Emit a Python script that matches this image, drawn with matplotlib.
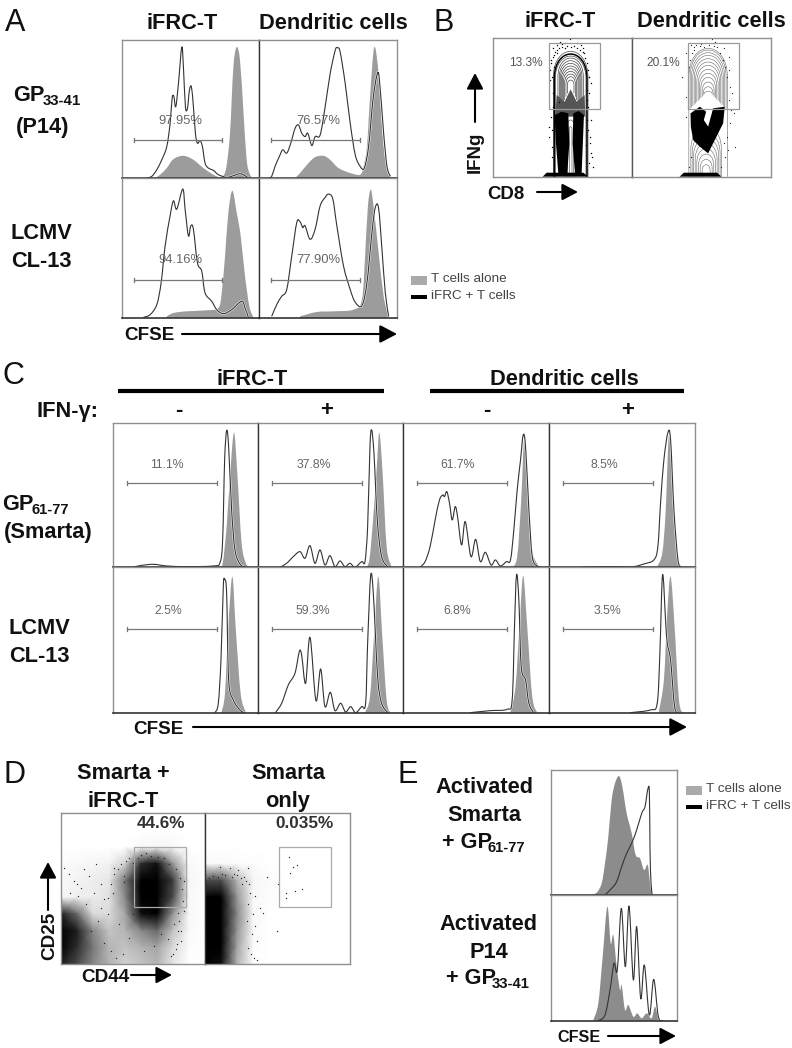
import matplotlib
matplotlib.use("Agg")
import matplotlib.pyplot as plt
import numpy as np
from matplotlib.path import Path
from matplotlib.patches import PathPatch, Rectangle

plt.rcParams["font.family"] = ["Liberation Sans", "DejaVu Sans"]

# histograms: channel / count, one panel each
a1_line_x = [75, 91, 106, 121, 136, 146, 152, 157, 163, 171, 181, 186, 192, 198, 204, 210, 216, 222, 228, 236, 243, 251, 261, 276, 291, 316, 336, 356, 371, 381]
a1_line_y = [0, 5, 25, 55, 95, 165, 240, 247, 215, 285, 395, 335, 215, 210, 265, 275, 215, 135, 105, 113, 95, 45, 30, 23, 10, 2, 7, 13, 7, 0]
a1_fill_x = [101, 116, 136, 156, 186, 216, 246, 276, 296, 308, 316, 326, 336, 346, 356, 366, 376, 386, 396]
a1_fill_y = [0, 10, 30, 57, 67, 55, 30, 10, 2, 10, 40, 135, 335, 395, 355, 205, 55, 10, 0]
a2_line_x = [30, 38, 48, 61, 71, 83, 95, 108, 118, 128, 138, 146, 158, 168, 183, 198, 213, 228, 235, 243, 258, 273, 288, 303, 315, 328, 341, 353, 360, 373, 383, 393]
a2_line_y = [0, 5, 35, 65, 85, 75, 105, 150, 160, 135, 125, 135, 98, 125, 130, 215, 315, 385, 393, 380, 285, 165, 70, 35, 30, 95, 235, 310, 300, 135, 35, 5]
a2_fill_x = [108, 123, 148, 168, 193, 213, 238, 273, 303, 313, 323, 333, 345, 358, 368, 378, 393]
a2_fill_y = [0, 15, 45, 63, 67, 55, 30, 15, 10, 35, 95, 255, 395, 315, 155, 55, 5]
a3_line_x = [66, 86, 106, 119, 131, 146, 156, 166, 184, 191, 201, 208, 216, 228, 241, 251, 271, 286, 306, 331, 361, 371, 381]
a3_line_y = [2, 10, 40, 105, 215, 305, 350, 325, 385, 325, 245, 275, 265, 165, 140, 75, 50, 25, 13, 25, 50, 30, 2]
a3_fill_x = [136, 156, 196, 256, 291, 301, 311, 321, 333, 346, 358, 371, 384, 396]
a3_fill_y = [5, 15, 20, 23, 30, 75, 185, 315, 380, 315, 245, 125, 35, 2]
a4_line_x = [38, 53, 68, 83, 98, 113, 123, 131, 138, 153, 168, 183, 198, 208, 221, 233, 253, 273, 288, 308, 323, 338, 348, 358, 368, 378, 388]
a4_line_y = [5, 40, 65, 85, 185, 285, 287, 270, 275, 235, 265, 335, 360, 370, 355, 275, 155, 85, 47, 37, 105, 255, 330, 327, 205, 75, 5]
a4_fill_x = [123, 173, 223, 283, 308, 318, 326, 335, 345, 358, 373, 388]
a4_fill_y = [5, 18, 20, 25, 55, 195, 335, 383, 315, 195, 65, 5]

c1_line_x = [60, 80, 120, 160, 220, 300, 320, 328, 334, 340, 346, 355, 365, 380, 395]
c1_line_y = [0, 5, 9, 4, 2, 4, 14, 82, 322, 410, 362, 172, 52, 10, 0]
c1_fill_x = [315, 328, 340, 350, 362, 372, 385, 398, 410]
c1_fill_y = [0, 12, 122, 272, 404, 282, 72, 12, 0]
c2_line_x = [65, 85, 105, 125, 140, 155, 170, 185, 200, 215, 230, 245, 260, 275, 290, 310, 320, 328, 335, 340, 347, 357, 370, 390]
c2_line_y = [0, 12, 32, 47, 27, 65, 12, 52, 7, 35, 2, 19, 2, 12, 0, 17, 17, 122, 362, 412, 342, 142, 32, 0]
c2_fill_x = [320, 333, 345, 355, 363, 373, 385, 400]
c2_fill_y = [0, 22, 152, 292, 404, 282, 62, 0]
c3_line_x = [50, 65, 80, 95, 108, 118, 123, 130, 138, 146, 155, 162, 174, 185, 202, 216, 230, 245, 262, 275, 290, 308, 320, 330, 340, 350, 358, 365, 375, 385, 400, 410]
c3_line_y = [0, 17, 62, 142, 202, 217, 212, 227, 192, 142, 182, 152, 67, 137, 32, 84, 17, 45, 7, 22, 4, 17, 22, 112, 232, 322, 397, 362, 172, 32, 4, 0]
c3_fill_x = [325, 340, 352, 362, 372, 382, 400, 415]
c3_fill_y = [0, 32, 202, 404, 222, 62, 10, 0]
c4_line_x = [93, 153, 213, 253, 283, 313, 325, 333, 343, 355, 363, 373, 385, 395]
c4_line_y = [0, 2, 2, 2, 10, 22, 62, 192, 322, 404, 382, 172, 22, 0]
c4_fill_x = [323, 338, 348, 358, 368, 378, 388, 398]
c4_fill_y = [2, 42, 162, 397, 262, 82, 17, 0]
c5_line_x = [305, 315, 323, 330, 334, 340, 346, 360, 380, 395]
c5_line_y = [2, 30, 160, 380, 402, 360, 100, 40, 10, 0]
c5_fill_x = [325, 335, 345, 357, 367, 382, 398]
c5_fill_y = [5, 60, 260, 410, 260, 60, 2]
c6_line_x = [50, 70, 90, 110, 123, 130, 142, 155, 173, 187, 200, 216, 230, 247, 262, 277, 292, 310, 322, 328, 337, 345, 358, 370, 390]
c6_line_y = [0, 30, 85, 120, 185, 175, 90, 228, 38, 133, 20, 63, 8, 30, 4, 20, 2, 20, 30, 210, 412, 360, 110, 30, 0]
c6_fill_x = [320, 335, 347, 360, 372, 385, 397]
c6_fill_y = [2, 50, 230, 410, 230, 40, 0]
c7_line_x = [200, 260, 310, 325, 332, 338, 345, 352, 365, 375, 390]
c7_line_y = [2, 8, 12, 40, 260, 415, 340, 140, 100, 30, 0]
c7_fill_x = [320, 335, 348, 358, 370, 385, 400]
c7_fill_y = [5, 80, 280, 412, 260, 50, 2]
c8_line_x = [243, 303, 323, 331, 339, 348, 353, 363, 375, 388]
c8_line_y = [2, 10, 30, 180, 415, 280, 210, 160, 20, 0]
c8_fill_x = [328, 343, 353, 363, 375, 388, 401]
c8_fill_y = [5, 100, 300, 410, 260, 40, 0]

e1_line_x = [161, 181, 196, 211, 226, 241, 256, 271, 281, 289, 294, 296, 299, 303]
e1_line_y = [1, 21, 41, 86, 126, 156, 196, 246, 266, 316, 311, 136, 36, 0]
e1_fill_x = [116, 136, 151, 161, 171, 181, 191, 203, 213, 226, 241, 253, 266, 278, 289, 296, 301]
e1_fill_y = [1, 8, 36, 96, 176, 286, 336, 358, 326, 246, 186, 121, 111, 76, 91, 36, 0]
e2_line_x = [141, 161, 176, 188, 198, 210, 222, 233, 246, 256, 268, 279, 294, 307, 321, 336]
e2_line_y = [0, 17, 92, 172, 152, 337, 162, 344, 122, 282, 67, 167, 17, 124, 12, 0]
e2_fill_x = [126, 141, 154, 168, 178, 186, 196, 206, 211, 221, 231, 246, 258, 271, 286, 301, 311, 321]
e2_fill_y = [2, 52, 192, 342, 232, 257, 162, 92, 107, 32, 47, 12, 22, 7, 22, 7, 42, 0]

# gate bars and their percent labels
a_labels = ["97.95%", "76.57%", "94.16%", "77.90%"]
c_labels = ["11.1%", "37.8%", "61.7%", "8.5%", "2.5%", "59.3%", "6.8%", "3.5%"]
c_label_x = [162, 168, 163, 166, 166, 165, 161, 176]

# panel B contour rings: top, half width, bottom
b1_ring_top = [376, 362, 356, 348, 340, 332, 324, 316, 308, 300, 290]
b1_ring_hw = [52, 46, 38, 34, 31, 28, 25, 22, 18, 14, 10]
b1_ring_bot = [0, 0, 200, 205, 210, 215, 220, 225, 230, 240, 250]
b1_mid_top = [190, 170, 150]
b1_mid_hw = [14, 9, 4]
b2_ring_top = [385, 380, 372, 364, 354, 344, 334, 322, 310, 298, 284, 270, 256]
b2_ring_hw = [58, 54, 50, 46, 42, 38, 34, 30, 26, 22, 18, 15, 12]
b2_ring_bot = [0, 205, 208, 212, 216, 220, 224, 228, 232, 236, 240, 244, 248]
b2_low_top = [150, 132, 116, 100, 84, 68, 52, 36]
b2_low_hw = [46, 42, 38, 33, 28, 23, 18, 12]

b1_haze_x = [186, 276, 274, 250, 232, 214, 190]
b1_haze_y = [180, 180, 245, 225, 262, 225, 245]
b1_black_x = [[184, 205, 225, 228, 222, 195, 188], [240, 256, 272, 265, 245, 238], [148, 160, 270, 285]]
b1_black_y = [[185, 195, 190, 100, 10, 10, 100], [190, 197, 185, 10, 10, 100], [0, 12, 12, 0]]
b2_black_x = [[175, 203, 222, 215, 228, 243, 278, 273, 248, 228, 203, 183, 176], [142, 155, 255, 268]]
b2_black_y = [[190, 210, 195, 170, 150, 205, 210, 160, 110, 70, 90, 110, 150], [0, 12, 12, 0]]
b1_dots_x = [180, 172, 190, 200, 170, 178, 290, 282, 275, 268, 295, 284, 288, 278, 183, 176, 272, 286, 190, 262, 230, 215, 250, 205, 280, 196, 175, 292,
             178, 174, 170, 176, 182, 186, 192, 198, 206, 214, 222, 234, 242, 252, 260, 268, 276, 280, 284, 288, 292, 286, 282, 178, 172, 168, 166, 176, 284, 290, 294, 298]
b1_dots_y = [385, 350, 395, 405, 290, 250, 120, 170, 330, 385, 60, 210, 40, 95, 330, 140, 370, 300, 370, 395, 412, 400, 402, 398, 260, 225, 60, 170,
             360, 340, 320, 300, 365, 375, 380, 385, 390, 385, 392, 388, 392, 385, 380, 375, 355, 340, 320, 300, 280, 250, 230, 210, 180, 150, 120, 90, 140, 100, 70, 30]
b2_dots_x = [160, 170, 185, 200, 250, 275, 290, 300, 168, 305, 285, 278, 295, 310, 150, 176, 240, 222, 205, 292, 268, 320,
             172, 178, 184, 192, 208, 216, 232, 246, 256, 264, 272, 280, 286, 294, 162, 166, 160, 290, 298, 276, 288, 176, 170]
b2_dots_y = [370, 330, 390, 400, 405, 385, 320, 250, 260, 190, 120, 60, 160, 90, 300, 395, 412, 402, 392, 360, 30, 230,
             350, 370, 380, 395, 398, 390, 395, 392, 388, 372, 350, 330, 300, 270, 240, 210, 180, 230, 200, 100, 80, 60, 30]

# panel D density read per cell, top row first
d1_density = [
    [0, 0, 0, 0, 0, 0, 0, 0, 0, 0],
    [0, 0, 0, 0, 0, 0, 0, 0, 0, 0],
    [0, 0, 0, 0, 0, .02, .03, .02, 0, 0],
    [.01, .02, .03, .04, .15, .7, .8, .35, .02, 0],
    [.02, .04, .06, .08, .45, 1, 1, .65, .03, 0],
    [.03, .05, .06, .1, .4, 1, 1, .6, .02, 0],
    [.75, .5, .12, .12, .3, .8, .95, .35, .02, 0],
    [.9, .75, .4, .2, .25, .4, .5, .2, .02, 0],
    [.9, .7, .45, .25, .2, .25, .3, .12, .01, 0],
    [.75, .6, .4, .25, .15, .2, .25, .08, 0, 0],
]
d2_density = [
    [0, 0, 0, 0, 0, 0, 0, 0, 0, 0],
    [0, 0, 0, 0, 0, 0, 0, 0, 0, 0],
    [0, 0, 0, 0, 0, 0, 0, 0, 0, 0],
    [.02, .02, .01, .01, 0, 0, 0, 0, 0, 0],
    [.6, .6, .25, .03, .01, 0, 0, 0, 0, 0],
    [.95, .9, .35, .02, .01, 0, 0, 0, 0, 0],
    [1, .95, .4, .02, 0, 0, 0, 0, 0, 0],
    [1, .9, .35, .02, 0, 0, 0, 0, 0, 0],
    [1, .85, .3, .01, 0, 0, 0, 0, 0, 0],
    [.95, .8, .25, .01, 0, 0, 0, 0, 0, 0],
]
d1_dots_x = [10, 25, 40, 60, 85, 100, 120, 70, 50, 140, 160, 370, 375, 355, 360, 345, 350, 335, 370, 28,
             180, 170, 195, 205, 215, 190, 160, 150, 230, 240, 255, 270, 290, 310, 325, 345, 356, 362, 366, 352, 340, 360, 348, 330, 320, 300, 280, 250, 205, 175, 140, 120, 110, 90, 130, 150, 165, 185, 130, 155, 75, 48, 105, 190, 215]
d1_dots_y = [290, 270, 250, 230, 265, 215, 240, 285, 205, 200, 290, 250, 210, 130, 70, 45, 100, 30, 160, 215,
             300, 285, 310, 320, 305, 265, 270, 240, 320, 328, 335, 325, 322, 318, 300, 285, 260, 225, 190, 155, 120, 100, 60, 25, 75, 90, 55, 40, 80, 120, 150, 170, 130, 100, 65, 40, 20, 30, 195, 215, 180, 240, 300, 248, 150]
d2_dots_x = [253, 275, 265, 243, 242, 290, 270, 220, 255, 185, 130, 100, 175, 217, 155, 45, 75, 150, 165,
             135, 130, 145, 125, 150, 140, 155, 128, 138, 146, 132, 122, 118, 108, 95, 80, 60, 40, 25, 12, 52, 88, 112]
d2_dots_y = [321, 298, 293, 213, 198, 225, 221, 241, 273, 263, 288, 283, 153, 100, 13, 293, 288, 205, 170,
             215, 180, 150, 130, 115, 90, 70, 50, 30, 20, 240, 250, 262, 258, 268, 262, 268, 262, 265, 258, 272, 270, 242]

LINE = "#333333"
FILL = "#9c9c9c"
EDGE = "#8f8f8f"
DARK = "#333333"
HEAD = 15.7
W, H = 792, 1048

fig = plt.figure(figsize=(7.92, 10.48), dpi=100)
overlay = fig.add_axes([0, 0, 1, 1], zorder=10)
overlay.set_xlim(0, W)
overlay.set_ylim(H, 0)
overlay.axis("off")
overlay.patch.set_alpha(0)


def panel(left, top, right, bottom, xmax, ymax):
    ax = fig.add_axes([left / W, 1 - bottom / H, (right - left) / W, (bottom - top) / H])
    ax.set_xlim(0, xmax)
    ax.set_ylim(0, ymax)
    ax.set_xticks([])
    ax.set_yticks([])
    for s in ax.spines.values():
        s.set_color(EDGE)
        s.set_linewidth(1)
    return ax


def smooth(x, y):
    # curve through the read points, no extra data
    p = np.column_stack([x, y]).astype(float)
    verts = [p[0]]
    codes = [Path.MOVETO]
    for i in range(len(p) - 1):
        a = p[max(i - 1, 0)]
        b = p[min(i + 2, len(p) - 1)]
        verts += [p[i] + (p[i + 1] - a) / 6, p[i + 1] - (b - p[i]) / 6, p[i + 1]]
        codes += [Path.CURVE4] * 3
    return verts, codes


def histogram(ax, fx, fy, lx, ly, fill=FILL, halo=1.5):
    verts, codes = smooth(fx, fy)
    verts = verts + [(fx[-1], 0), (fx[0], 0), (fx[0], 0)]
    codes = codes + [Path.LINETO, Path.LINETO, Path.CLOSEPOLY]
    ax.add_patch(PathPatch(Path(verts, codes), facecolor=fill, edgecolor="none"))
    verts, codes = smooth(lx, ly)
    if halo:
        ax.add_patch(PathPatch(Path(verts, codes), fill=False, edgecolor="white", lw=halo))
    ax.add_patch(PathPatch(Path(verts, codes), fill=False, edgecolor=LINE, lw=0.8))
    ax.spines["bottom"].set_color(DARK)
    ax.spines["bottom"].set_linewidth(1.2)


def gate(ax, x0, x1, y):
    ax.plot([x0, x1], [y, y], color="#777777", lw=0.9)
    for x in (x0, x1):
        ax.plot([x, x], [y - 6, y + 6], color="#777777", lw=0.9)


def label(x, y, s, size=HEAD, bold=True, ha="left", color="#111111", **kw):
    overlay.text(x, y, s, fontsize=size, fontweight="bold" if bold else "normal",
                 ha=ha, va="baseline", color=color, **kw)


def arrow(x0, y0, x1, y1, scale=12):
    overlay.annotate("", xy=(x1, y1), xytext=(x0, y0),
                     arrowprops=dict(arrowstyle="-|>,head_length=0.8,head_width=0.42", color="black",
                                     lw=1.5, shrinkA=0, shrinkB=0, mutation_scale=scale))


def dome(ax, xc, top, hw, bot, color, lw=0.5):
    shoulder = max(top - 1.5 * hw, bot)
    c = shoulder + (top - shoulder) / 0.75
    verts = [(xc - hw, bot), (xc - hw, shoulder), (xc - hw, c), (xc + hw, c), (xc + hw, shoulder), (xc + hw, bot)]
    codes = [Path.MOVETO, Path.LINETO, Path.CURVE4, Path.CURVE4, Path.CURVE4, Path.LINETO]
    ax.add_patch(PathPatch(Path(verts, codes), fill=False, edgecolor=color, lw=lw))


def legend(x, y0, y1, y2, y3):
    overlay.add_patch(Rectangle((x, y0), 16, 9, color="#aaaaaa", lw=0))
    overlay.add_patch(Rectangle((x, y2), 16, 4, color="black", lw=0))
    overlay.text(x + 20, y1, "T cells alone", fontsize=9.7, color="#444444", va="center")
    overlay.text(x + 20, y3, "iFRC + T cells", fontsize=9.7, color="#444444", va="center")


# A
a_rects = [(121.5, 39.5, 259, 178), (259, 39.5, 397, 178), (121.5, 178, 259, 318), (259, 178, 397, 318)]
a_data = [(a1_fill_x, a1_fill_y, a1_line_x, a1_line_y), (a2_fill_x, a2_fill_y, a2_line_x, a2_line_y),
          (a3_fill_x, a3_fill_y, a3_line_x, a3_line_y), (a4_fill_x, a4_fill_y, a4_line_x, a4_line_y)]
for i in range(4):
    ax = panel(*a_rects[i], 413, 418)
    histogram(ax, *a_data[i])
    gate(ax, 37, 301, 114)
    ax.text(178, 173, a_labels[i], fontsize=9.4, color="#666666", ha="center", va="center")
    if i % 2:
        ax.spines["left"].set_color(DARK)

label(5, 31, "A", size=22, bold=False)
label(182, 29, "iFRC-T", ha="center")
label(333, 29, "Dendritic cells", ha="center")
label(13, 101, "GP")
label(43, 105, "33-41", size=10.8)
label(16, 133, "(P14)")
label(11, 239, "LCMV")
label(11, 267, "CL-13")
label(124, 340, "CFSE", size=13.6)
arrow(182, 334, 397, 334, 13)
legend(411, 276, 279, 295, 296)

# B
label(434, 31, "B", size=22, bold=False)
label(560, 27, "iFRC-T", ha="center")
label(711, 27, "Dendritic cells", ha="center")
b1 = panel(493.3, 37.7, 632.3, 176.7, 417, 417)
b2 = panel(632.3, 37.7, 771, 176.7, 417, 417)
b2.spines["left"].set_color("#555555")
for i in range(len(b1_ring_top)):
    dome(b1, 232, b1_ring_top[i], b1_ring_hw[i], b1_ring_bot[i], "#333333", lw=0.45)
for i in range(len(b1_mid_top)):
    dome(b1, 232, b1_mid_top[i], b1_mid_hw[i], 0, "#555555", lw=0.45)
b1.fill(b1_haze_x, b1_haze_y, color="#555555", lw=0)
for px, py in zip(b1_black_x, b1_black_y):
    b1.fill(px, py, color="black", lw=0)
dome(b1, 232, 368, 49, 0, "black", lw=1.1)
b1.scatter(b1_dots_x, b1_dots_y, s=1.0, color="black", lw=0)
for i in range(len(b2_ring_top)):
    dome(b2, 228, b2_ring_top[i], b2_ring_hw[i], b2_ring_bot[i], "#666666", lw=0.4)
for i in range(len(b2_low_top)):
    dome(b2, 222, b2_low_top[i], b2_low_hw[i], 0, "#666666", lw=0.4)
for px, py in zip(b2_black_x, b2_black_y):
    b2.fill(px, py, color="black", lw=0)
b2.scatter(b2_dots_x, b2_dots_y, s=0.8, color="#222222", lw=0)
for ax in (b1, b2):
    ax.add_patch(Rectangle((167, 203), 153, 197, fill=False, edgecolor="#999999", lw=0.9))
b1.text(97, 340, "13.3%", fontsize=8.6, color="#555555", ha="center", va="center")
b2.text(94, 340, "20.1%", fontsize=8.6, color="#555555", ha="center", va="center")
arrow(475, 122, 475, 73, 12)
overlay.text(484, 152, "IFNg", fontsize=13.4, fontweight="bold", rotation=90, ha="right", va="center", color="#111111")
label(487, 199, "CD8", size=13.4)
arrow(537, 192, 578, 192, 12)

# C
label(3, 384, "C", size=22, bold=False)
label(252, 385, "iFRC-T", ha="center")
label(564, 385, "Dendritic cells", ha="center")
overlay.plot([118, 384], [391, 391], color="black", lw=3, solid_capstyle="butt")
overlay.plot([430, 684], [391, 391], color="black", lw=3, solid_capstyle="butt")
label(36, 417, "IFN-\u03b3:")
for x, s in zip([179, 327, 487, 628], ["-", "+", "-", "+"]):
    label(x, 416, s, size=16, ha="center")
c_lefts = [113.3, 258.3, 403.3, 549, 694.7]
c_data = [(c1_fill_x, c1_fill_y, c1_line_x, c1_line_y), (c2_fill_x, c2_fill_y, c2_line_x, c2_line_y),
          (c3_fill_x, c3_fill_y, c3_line_x, c3_line_y), (c4_fill_x, c4_fill_y, c4_line_x, c4_line_y),
          (c5_fill_x, c5_fill_y, c5_line_x, c5_line_y), (c6_fill_x, c6_fill_y, c6_line_x, c6_line_y),
          (c7_fill_x, c7_fill_y, c7_line_x, c7_line_y), (c8_fill_x, c8_fill_y, c8_line_x, c8_line_y)]
for i in range(8):
    col = i % 4
    top, bot, ymax = (423.3, 567.3, 432) if i < 4 else (567.3, 713.3, 438)
    ax = panel(c_lefts[col], top, c_lefts[col + 1], bot, 435, ymax)
    histogram(ax, *c_data[i])
    gate(ax, 41, 311, 252)
    ax.text(c_label_x[i], 308, c_labels[i], fontsize=8.8, color="#666666", ha="center", va="center")
    if col:
        ax.spines["left"].set_color(DARK)
label(2, 510, "GP")
label(32, 514, "61-77", size=10.6)
label(4, 538, "(Smarta)")
label(9, 634, "LCMV")
label(9, 662, "CL-13")
label(133, 734, "CFSE", size=13.6)
arrow(193, 727, 687, 727, 13)

# D
label(3, 783, "D", size=22, bold=False)
label(123, 779, "Smarta +", ha="center")
label(123, 807, "iFRC-T", ha="center")
label(288, 779, "Smarta", ha="center")
label(288, 807, "only", ha="center")
d1 = panel(61, 813.3, 205, 964.3, 432, 453)
d2 = panel(205, 813.3, 349.7, 964.3, 434, 453)
d2.spines["left"].set_color(DARK)
for ax, dens, dx, dy, xmax in ((d1, d1_density, d1_dots_x, d1_dots_y, 432), (d2, d2_density, d2_dots_x, d2_dots_y, 434)):
    z = np.array(dens)
    gx = np.linspace(0, xmax, z.shape[1])
    gy = np.linspace(453, 0, z.shape[0])
    ax.pcolormesh(gx, gy, z, cmap="gray_r", vmin=0, vmax=0.85, shading="gouraud")
    ax.scatter(dx, dy, s=0.9, color="#222222", lw=0)
    ax.add_patch(Rectangle((xmax - 432 + 220, 172), 156, 180, fill=False, edgecolor="#aaaaaa", lw=0.9))
label(160.7, 828, "44.6%", size=12.3, ha="center", color="#333333")
label(305, 828, "0.035%", size=12.3, ha="center", color="#333333")
arrow(48, 910, 48, 862, 12)
overlay.text(58, 936, "CD25", fontsize=13.6, fontweight="bold", rotation=90, ha="right", va="center", color="#111111")
label(81, 982, "CD44", size=13.6)
arrow(131, 975, 172, 975, 12)

# E
label(398, 783, "E", size=22, bold=False)
e1 = panel(551.3, 770, 676.7, 895.3, 376, 376)
e2 = panel(551.3, 895.3, 676.7, 1020.7, 376, 376)
histogram(e1, e1_fill_x, e1_fill_y, e1_line_x, e1_line_y, fill="#8c8c8c", halo=0)
histogram(e2, e2_fill_x, e2_fill_y, e2_line_x, e2_line_y, fill="#8c8c8c", halo=0)
label(484, 793, "Activated", ha="center")
label(484, 821, "Smarta", ha="center")
label(442, 848, "+ GP")
label(488, 852, "61-77", size=10.6)
label(488, 930, "Activated", ha="center")
label(489, 958, "P14", ha="center")
label(446, 984, "+ GP")
label(492, 988, "33-41", size=10.6)
label(557, 1042, "CFSE", size=11.6)
arrow(608, 1036, 676, 1036, 12)
legend(686, 786, 789, 805, 806)

fig.savefig("out.png", dpi=100)
